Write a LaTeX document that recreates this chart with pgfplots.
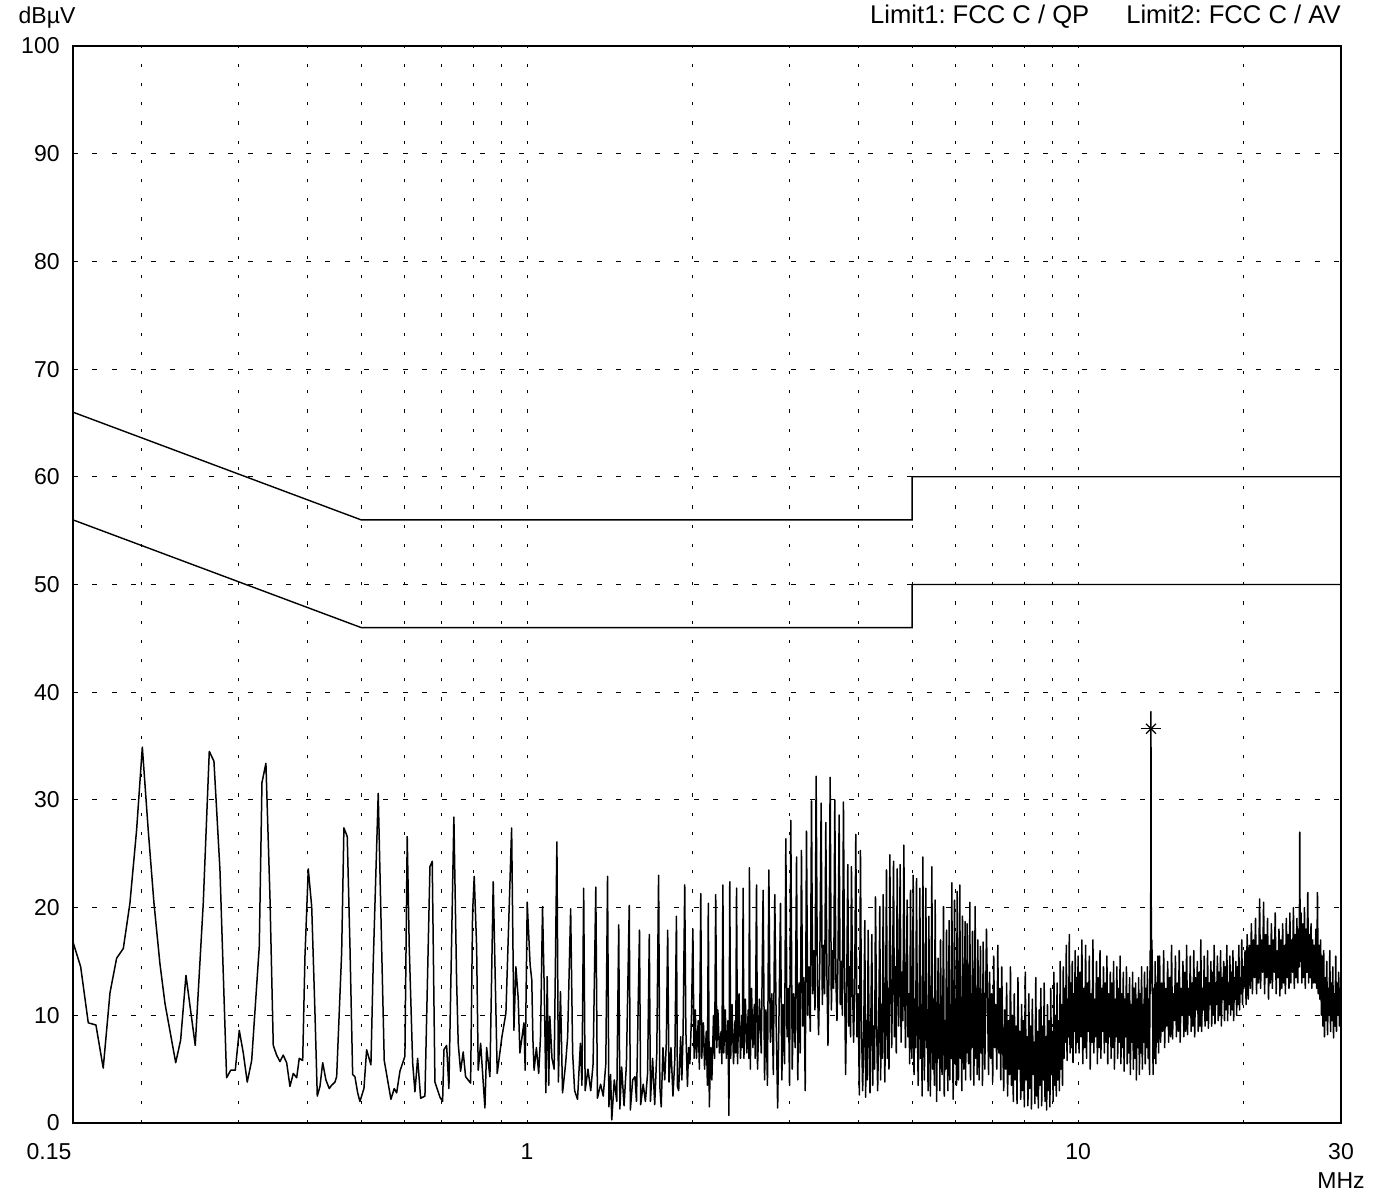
\documentclass[border=0pt]{standalone}
\usepackage{fontspec}
\setmainfont{Liberation Sans}
\usepackage{pgfplots}
\pgfplotsset{compat=1.18}
\begin{document}
\frenchspacing
\fontsize{11.5}{13.8}\selectfont
\begin{tikzpicture}
\begin{axis}[
  name=ax,
  at={(0,0)}, anchor=south west,
  scale only axis, width=634pt, height=538.5pt,
  xmode=log, xmin=0.15, xmax=30, ymin=0, ymax=100,
  axis line style={line width=0.7pt},
  major tick length=0pt, minor tick length=0pt,
  /pgf/number format/assume math mode=true,
  tick label style={font=\fontsize{11.5}{13.8}\selectfont},
  xtick={1,10,30}, xticklabels={1,10,30},
  xticklabel style={anchor=north, inner sep=0pt, yshift=-10pt},
  ytick={0,10,...,100},
  yticklabel style={anchor=east, inner sep=0pt, xshift=-6.5pt},
  ymajorgrids,
  major grid style={black, line width=0.5pt, dash pattern=on 2.5pt off 7.2pt},
  extra x ticks={0.2,0.3,0.4,0.5,0.6,0.7,0.8,0.9,1,2,3,4,5,6,7,8,9,10,20},
  extra x tick labels={},
  extra x tick style={grid=major, major grid style={black, line width=0.5pt, dash pattern=on 1.6pt off 8pt}},
  clip=true,
]
\addplot[black, line width=0.7pt] coordinates {(0.15,66)(0.5,56)(5,56)(5,60)(30,60)};
\addplot[black, line width=0.7pt] coordinates {(0.15,56)(0.5,46)(5,46)(5,50)(30,50)};
\addplot[black, line width=0.75pt, line join=round, mark=none] coordinates {
(0.15,16.8)(0.1549,14.5)(0.1599,9.3)(0.1651,9.1)(0.1702,5.1)(0.1751,12.1)(0.1800,15.3)(0.1851,16.2)(0.1903,20.4)(0.1957,27.2)(0.2004,34.9)(0.2054,27.2)(0.2104,20.4)(0.2157,14.8)(0.2203,11.1)(0.2304,5.6)(0.2352,7.7)(0.2405,13.7)(0.2500,7.2)(0.2585,20.4)(0.2651,34.5)(0.2703,33.6)(0.2772,23.5)(0.2850,4.2)(0.2899,4.9)(0.2955,4.9)(0.3005,8.6)(0.3056,6.5)(0.3107,3.8)(0.3165,5.8)(0.3267,16.4)(0.3304,31.6)(0.3359,33.4)(0.3416,21.0)(0.3464,7.2)(0.3513,6.3)(0.3562,5.7)(0.3611,6.3)(0.3663,5.6)(0.3714,3.4)(0.3766,4.6)(0.3820,4.2)(0.3861,6.0)(0.3917,5.8)(0.3954,15.4)(0.4009,23.6)(0.4067,20.1)(0.4123,10.2)(0.4163,2.5)(0.4210,3.4)(0.4258,5.6)(0.4316,4.0)(0.4376,3.2)(0.4420,3.5)(0.4482,3.8)(0.4514,4.3)(0.4609,15.8)(0.4653,27.4)(0.4718,26.6)(0.4772,16.4)(0.4826,4.5)(0.4872,4.3)(0.4928,2.8)(0.4975,2.0)(0.5059,3.2)(0.5116,6.8)(0.5209,5.4)(0.5259,14.8)(0.5370,30.6)(0.5447,16.4)(0.5507,5.8)(0.5576,4.2)(0.5663,2.2)(0.5742,3.2)(0.5800,2.8)(0.5880,4.8)(0.6004,6.2)(0.6062,26.6)(0.6113,16.4)(0.6201,5.6)(0.6261,2.9)(0.6332,6.0)(0.6412,2.3)(0.6528,2.5)(0.6666,23.8)(0.6730,24.3)(0.6806,3.8)(0.6950,2.4)(0.7029,2.0)(0.7067,6.8)(0.7147,7.2)(0.7216,3.2)(0.7368,28.4)(0.7452,13.3)(0.7502,7.4)(0.7577,4.8)(0.7660,6.6)(0.7737,4.3)(0.7901,3.7)(0.7967,19.5)(0.8020,22.9)(0.8101,16.4)(0.8156,4.9)(0.8238,7.4)(0.8387,1.4)(0.8447,7.0)(0.8564,4.3)(0.8683,22.4)(0.8829,4.6)(0.9004,8.0)(0.9156,10.2)(0.9377,27.4)(0.9467,8.6)(0.9546,14.5)(0.9638,11.6)(0.9707,6.5)(0.9871,9.3)(0.9924,4.9)(1.0008,20.5)
(1.013,14.7)(1.020,13.3)(1.025,7.7)(1.030,4.9)(1.040,7.0)(1.050,4.6)(1.058,8.0)(1.067,20.1)
(1.075,12.0)(1.082,2.8)(1.088,13.6)(1.095,3.5)(1.100,9.9)(1.110,6.0)(1.120,5.0)(1.133,26.1)
(1.140,3.8)(1.150,12.2)(1.160,2.8)(1.175,5.5)(1.185,8.0)(1.200,19.9)
(1.210,6.5)(1.220,3.0)(1.235,2.2)(1.250,7.4)(1.258,3.5)(1.267,21.8)
(1.275,3.0)(1.290,5.0)(1.305,3.0)(1.318,5.5)(1.333,21.9)
(1.342,2.3)(1.360,3.6)(1.375,2.5)(1.390,5.5)(1.400,22.9)
(1.408,1.5)(1.418,4.5)(1.425,0.3)(1.440,4.0)(1.455,2.0)(1.467,18.4)
(1.474,1.3)(1.485,5.2)(1.500,1.6)(1.515,5.5)(1.533,20.2)
(1.540,1.2)(1.555,4.0)(1.570,4.3)(1.580,2.0)(1.600,17.9)
(1.608,1.7)(1.625,3.6)(1.640,2.0)(1.655,4.6)(1.667,17.5)
(1.675,2.0)(1.690,6.0)(1.705,1.7)(1.720,6.5)(1.733,23.0)
(1.742,3.4)(1.752,1.5)(1.765,7.0)(1.778,4.0)(1.790,7.5)(1.800,17.9)
(1.810,3.8)(1.825,7.0)(1.840,2.5)(1.855,6.0)(1.867,19.2)
(1.875,3.4)(1.885,3.0)(1.900,8.0)(1.910,4.0)(1.920,8.5)(1.933,22.1)
(1.942,8.7)(1.955,3.4)(1.965,7.0)(1.975,5.5)(1.988,9.8)(2.000,18.0)
(2.010,6.0)(2.020,10.5)(2.030,6.0)(2.045,9.5)(2.055,5.0)(2.067,21.3)
(2.075,6.0)(2.090,9.3)(2.100,5.0)(2.115,8.5)(2.125,3.5)(2.133,20.4)
(2.142,1.5)(2.155,7.0)(2.165,4.0)(2.180,10.0)(2.190,6.0)(2.200,21.2)
(2.210,7.0)(2.220,10.5)(2.235,6.5)(2.250,8.5)(2.258,5.5)(2.267,22.1)
(2.275,6.5)(2.290,10.5)(2.300,6.0)(2.315,9.5)(2.325,0.7)(2.333,22.4)
(2.342,6.0)(2.355,11.0)(2.370,5.5)(2.385,9.5)(2.392,6.5)(2.400,21.8)
(2.410,5.5)(2.425,12.0)(2.440,6.0)(2.455,10.0)(2.460,7.0)(2.467,21.8)
(2.475,6.0)(2.490,11.5)(2.505,6.5)(2.520,10.5)(2.527,6.0)(2.533,23.7)
(2.542,5.0)(2.555,12.5)(2.570,7.0)(2.585,11.0)(2.595,6.0)(2.609,22.1)
(2.620,5.0)(2.641,11.5)(2.661,6.5)(2.682,21.6)
(2.698,4.0)(2.714,10.5)(2.731,3.5)(2.747,23.5)
(2.764,7.5)(2.782,12.0)(2.799,4.5)(2.816,21.2)
(2.833,9.0)(2.850,1.4)(2.867,10.5)(2.884,20.4)
(2.900,4.0)(2.916,11.0)(2.933,5.5)(2.949,26.4)
(2.964,8.0)(2.980,12.5)(2.995,3.5)(3.011,28.1)
(3.029,5.0)(3.047,12.0)(3.066,7.0)(3.084,24.7)
(3.100,4.0)(3.116,13.0)(3.132,6.5)(3.148,25.3)
(3.165,9.0)(3.181,13.5)(3.198,3.0)(3.215,27.1)
(3.232,10.0)(3.249,14.5)(3.266,8.5)(3.283,29.9)
(3.299,12.0)(3.315,16.0)(3.331,10.5)(3.347,32.2)
(3.365,13.0)(3.382,8.2)(3.400,15.5)(3.418,29.7)
(3.435,11.0)(3.451,16.5)(3.468,12.0)(3.485,27.9)
(3.501,14.0)(3.517,7.2)(3.533,15.0)(3.549,32.1)
(3.567,10.5)(3.584,16.0)(3.602,12.5)(3.619,30.0)
(3.635,13.5)(3.652,9.5)(3.668,15.5)(3.685,28.6)
(3.702,11.0)(3.718,15.0)(3.735,10.0)(3.752,29.8)
(3.769,14.0)(3.786,4.5)(3.804,13.0)(3.821,24.0)
(3.836,9.0)(3.850,14.5)(3.865,8.0)(3.880,23.8)
(3.898,12.5)(3.915,7.5)(3.933,13.0)(3.951,26.8)
(3.970,8.0)(3.990,12.0)(4.009,2.6)(4.028,25.3)
(4.046,9.0)(4.065,3.0)(4.083,8.0)(4.102,18.8)
(4.116,2.4)(4.131,9.5)(4.145,4.0)(4.160,17.9)
(4.176,8.5)(4.192,2.8)(4.208,10.0)(4.224,17.5)
(4.240,3.5)(4.256,9.0)(4.273,5.0)(4.289,21.0)
(4.308,10.0)(4.328,3.0)(4.347,8.5)(4.367,20.1)
(4.382,4.0)(4.398,11.0)(4.413,6.0)(4.429,21.2)
(4.444,10.5)(4.460,3.8)(4.475,11.5)(4.491,23.5)
(4.507,6.0)(4.522,12.5)(4.538,5.0)(4.554,24.9)
(4.572,13.0)(4.590,7.0)(4.607,14.0)(4.625,24.3)
(4.643,8.0)(4.660,14.5)(4.678,6.5)(4.696,23.6)
(4.711,13.5)(4.725,9.0)(4.740,15.0)(4.755,24.0)
(4.773,7.5)(4.792,14.0)(4.810,9.5)(4.829,25.8)
(4.846,12.5)(4.862,7.0)(4.879,13.5)(4.896,20.7)
(4.913,8.0)(4.930,12.0)(4.948,5.5)(4.965,21.6)
(4.979,11.0)(4.993,6.0)(5.007,10.5)(5.021,23.0)
(5.038,4.5)(5.056,11.5)(5.073,7.0)(5.091,22.7)
(5.109,9.0)(5.127,3.5)(5.145,10.0)(5.163,21.8)
(5.179,6.0)(5.195,11.0)(5.212,2.5)(5.228,24.7)
(5.244,9.5)(5.261,4.0)(5.277,11.0)(5.294,21.8)
(5.310,7.0)(5.327,10.5)(5.343,3.0)(5.360,19.2)
(5.377,9.0)(5.394,2.5)(5.411,10.0)(5.428,23.8)
(5.447,5.0)(5.466,11.5)(5.485,3.5)(5.504,20.7)
(5.521,8.5)(5.538,2.0)(5.556,10.0)(5.573,15.3)
(5.587,6.0)(5.601,11.0)(5.614,3.0)(5.628,17.0)
(5.646,9.0)(5.664,4.5)(5.681,10.5)(5.699,20.1)
(5.717,2.5)(5.735,9.5)(5.753,5.0)(5.771,17.9)
(5.787,10.0)(5.803,3.0)(5.819,8.5)(5.835,18.8)
(5.851,4.0)(5.868,11.0)(5.884,6.0)(5.901,22.3)
(5.917,8.0)(5.934,2.2)(5.950,10.0)(5.967,20.7)
(5.984,5.5)(6.000,11.5)(6.017,3.5)(6.033,21.5)
(6.050,9.5)(6.067,4.0)(6.084,12.0)(6.101,22.1)
(6.118,6.0)(6.135,11.0)(6.152,3.0)(6.169,19.2)
(6.186,10.0)(6.204,5.0)(6.221,12.0)(6.238,18.7)
(6.251,4.0)(6.264,10.5)(6.278,6.5)(6.291,18.5)
(6.309,11.5)(6.327,5.5)(6.344,9.0)(6.362,20.5)
(6.380,4.0)(6.398,12.0)(6.415,7.0)(6.433,17.8)
(6.451,10.5)(6.469,3.5)(6.487,11.0)(6.505,20.1)
(6.523,6.0)(6.541,12.5)(6.560,4.5)(6.578,17.0)
(6.596,9.5)(6.614,4.0)(6.633,11.0)(6.651,16.4)
(6.670,6.5)(6.688,12.0)(6.707,3.5)(6.726,16.8)
(6.750,10.0)(6.773,5.0)(6.797,11.5)(6.820,18.0)
(6.85,11.5)(6.88,4.5)(6.91,14.0)(6.94,6.0)(6.97,12.0)(7.00,3.8)(7.03,15.5)(7.06,7.0)(7.09,11.0)(7.12,5.0)(7.15,16.5)(7.18,6.5)(7.21,12.5)(7.24,4.0)(7.27,14.5)(7.30,7.5)
(7.33,3.0)(7.36,10.5)(7.39,5.0)(7.42,13.0)(7.45,2.5)(7.48,9.5)(7.51,4.5)(7.54,14.5)(7.57,3.5)(7.60,10.0)(7.63,2.0)(7.66,12.0)(7.69,4.0)(7.72,9.0)(7.75,1.8)(7.78,13.5)(7.81,5.0)(7.84,8.5)(7.87,2.2)(7.90,11.0)(7.93,3.0)(7.96,9.5)(7.99,1.5)(8.02,14.0)(8.05,4.0)(8.08,8.0)(8.11,1.6)(8.14,12.0)(8.17,3.2)(8.20,9.0)(8.23,1.3)(8.26,11.5)(8.29,4.5)(8.32,7.5)(8.35,1.8)(8.38,13.5)(8.41,2.5)(8.44,8.5)(8.47,1.4)(8.50,10.5)(8.53,3.5)(8.56,12.5)(8.59,1.6)(8.62,9.0)(8.65,4.0)(8.68,13.0)(8.71,2.0)(8.74,8.0)(8.77,1.2)(8.80,11.0)(8.83,3.0)(8.86,9.5)(8.89,1.5)(8.92,12.5)(8.95,4.5)(8.98,8.5)(9.01,2.0)(9.04,14.0)(9.07,3.5)(9.10,10.0)(9.13,2.5)(9.16,13.0)(9.19,4.0)(9.22,9.5)(9.25,3.0)(9.28,15.0)(9.31,5.0)(9.34,11.0)(9.37,3.5)(9.40,14.5)
(9.43,6.0)(9.46,12.5)(9.49,7.5)(9.52,16.5)(9.55,5.8)(9.58,11.5)(9.61,8.0)(9.64,17.5)(9.67,6.5)(9.70,13.0)(9.73,7.0)(9.76,15.0)(9.79,5.6)(9.82,12.0)(9.85,8.5)(9.88,16.0)(9.91,6.5)(9.94,13.5)(9.97,7.5)(10.00,15.5)
(10.04,6.5)(10.08,14.0)(10.12,8.0)(10.16,17.0)(10.20,5.5)(10.24,12.5)(10.28,7.0)(10.32,16.5)(10.36,6.0)(10.40,13.0)(10.44,8.5)(10.48,15.5)(10.52,5.0)(10.56,12.0)(10.60,7.5)(10.64,17.0)(10.68,6.5)(10.72,11.5)(10.76,8.0)(10.80,15.0)(10.84,5.5)(10.88,13.5)(10.92,7.0)(10.96,16.0)(11.00,6.0)(11.04,12.5)(11.08,8.5)(11.12,14.5)(11.16,6.5)(11.20,13.0)(11.24,7.5)(11.28,15.5)(11.32,5.5)(11.36,12.0)(11.40,8.0)(11.44,14.0)(11.48,6.0)(11.52,13.0)(11.56,7.0)(11.60,15.0)(11.64,5.0)(11.68,11.5)(11.72,8.0)(11.76,14.5)(11.80,6.0)(11.84,12.5)(11.88,7.5)(11.92,15.5)(11.96,5.5)(12.00,12.0)(12.04,7.0)(12.08,14.0)(12.12,4.8)(12.16,11.5)(12.20,8.0)(12.24,14.5)(12.28,5.5)(12.32,12.0)(12.36,6.5)(12.40,13.5)(12.44,4.5)(12.48,11.0)(12.52,7.5)(12.56,14.0)(12.60,5.0)(12.64,12.5)(12.68,6.0)(12.72,13.0)(12.76,4.0)(12.80,11.5)(12.84,7.0)(12.88,13.5)(12.92,4.5)(12.96,12.0)(13.00,6.5)(13.04,14.5)(13.08,5.0)(13.12,11.0)(13.16,7.5)(13.20,14.0)
(13.24,5.5)(13.28,12.5)(13.32,7.0)(13.36,14.5)(13.40,6.0)(13.44,11.5)(13.48,4.5)(13.51,16.0)(13.53,12.0)(13.54,20.5)(13.55,21.6)(13.56,38.2)(13.57,21.0)(13.58,19.5)(13.59,13.0)(13.61,17.0)(13.64,14.0)(13.68,4.5)(13.72,12.5)(13.76,6.0)(13.80,15.0)(13.84,5.5)(13.88,13.0)(13.92,7.5)(13.96,15.5)(14.00,6.5)
(14.06,15.5)(14.12,7.5)(14.18,13.0)(14.24,8.5)(14.30,16.0)(14.36,7.0)(14.42,12.5)(14.48,9.0)(14.54,15.0)(14.60,7.5)(14.66,13.5)(14.72,8.0)(14.78,16.5)(14.84,7.8)(14.90,12.0)(14.96,9.5)(15.02,15.5)(15.08,8.0)(15.14,13.0)(15.20,8.5)(15.26,16.0)(15.32,7.5)(15.38,12.5)(15.44,10.0)(15.50,15.0)(15.56,8.0)(15.62,14.0)(15.68,8.5)(15.74,16.5)(15.80,8.2)(15.86,12.5)(15.92,10.0)(15.98,15.5)(16.04,8.5)(16.10,13.0)(16.16,9.0)(16.22,16.0)(16.28,8.0)(16.34,13.5)(16.40,10.5)(16.46,15.0)(16.52,8.5)(16.58,14.0)(16.64,9.0)(16.70,17.0)(16.76,8.5)(16.82,12.5)(16.88,10.5)(16.94,15.5)(17.00,9.0)(17.06,13.5)(17.12,9.5)(17.18,16.0)(17.24,8.8)(17.30,13.0)(17.36,11.0)(17.42,15.0)(17.48,9.0)(17.54,14.0)(17.60,10.0)(17.66,16.5)(17.72,9.2)(17.78,13.0)(17.84,11.0)(17.90,15.5)(17.96,9.5)(18.02,14.0)(18.08,10.0)(18.14,16.0)(18.20,9.0)(18.26,13.5)(18.32,11.5)(18.38,15.0)(18.44,9.5)(18.50,14.5)(18.56,10.5)(18.62,16.5)(18.68,9.5)(18.74,13.0)(18.80,11.0)(18.86,15.5)(18.92,10.0)(18.98,14.0)(19.04,10.5)(19.10,16.0)(19.16,9.5)(19.22,13.5)(19.28,11.5)(19.34,15.0)(19.40,10.0)(19.46,14.5)(19.52,11.0)(19.58,16.5)(19.64,10.5)(19.70,13.5)(19.76,12.0)(19.82,17.0)(19.88,11.0)(19.94,14.5)(20.00,12.5)
(20.09,16.0)(20.18,11.0)(20.27,17.5)(20.36,11.5)(20.45,16.5)(20.54,12.5)(20.63,18.5)(20.72,12.0)(20.81,17.0)(20.90,13.5)(20.99,19.0)(21.08,12.0)(21.17,16.5)(21.26,13.0)(21.35,20.8)(21.44,12.5)(21.53,17.0)(21.62,14.0)(21.71,20.5)(21.80,12.0)(21.89,17.5)(21.98,13.5)(22.07,19.0)(22.16,11.5)(22.25,16.5)(22.34,13.0)(22.43,18.5)(22.52,12.5)(22.61,17.0)(22.70,14.0)(22.79,19.5)(22.88,12.0)(22.97,16.0)(23.06,13.5)(23.15,18.0)(23.24,11.8)(23.33,17.0)(23.42,12.5)(23.51,18.5)(23.60,13.0)(23.69,16.5)(23.78,12.0)(23.87,19.0)(23.96,13.5)(24.05,17.5)(24.14,12.5)(24.23,19.5)(24.32,13.0)(24.41,17.0)(24.50,14.0)(24.59,20.0)(24.68,12.5)(24.77,17.5)
(24.86,13.5)(24.95,19.0)(25.04,13.0)(25.13,18.0)(25.20,14.5)(25.25,27.0)(25.30,15.0)(25.39,19.5)(25.48,13.0)(25.57,18.5)(25.66,13.5)(25.75,20.0)(25.84,12.5)(25.93,18.0)(26.02,14.0)(26.11,21.4)(26.20,13.0)(26.29,17.5)(26.38,13.5)(26.47,18.5)(26.56,12.5)(26.65,17.0)(26.74,13.0)(26.83,16.5)(26.92,13.0)
(27.01,18.0)(27.10,12.5)(27.19,21.4)(27.28,12.0)(27.37,16.5)(27.46,11.5)(27.55,17.0)(27.64,10.0)(27.73,15.5)(27.82,9.0)(27.91,16.0)(28.00,8.0)(28.09,13.5)(28.18,9.5)(28.27,15.0)(28.36,8.2)(28.45,12.5)(28.54,10.0)(28.63,16.0)(28.72,8.5)(28.81,13.0)(28.90,9.5)(28.99,14.5)(29.08,7.9)(29.17,12.0)(29.26,9.0)(29.35,15.5)(29.44,8.5)(29.53,13.0)(29.62,10.0)(29.71,14.0)(29.80,9.0)(29.89,12.5)(29.98,11.0)(30.00,13.0)
};
\addplot[black, only marks, mark=x, mark size=3.5pt, mark options={line width=0.6pt}] coordinates {(13.56,36.6)};
\addplot[black, only marks, mark=-, mark size=5pt, mark options={line width=0.6pt}] coordinates {(13.56,36.6)};
\end{axis}
\node[anchor=north, inner sep=0pt, xshift=-12pt, yshift=-10pt] at (ax.south west) {0.15};
\node[anchor=north, inner sep=0pt, yshift=-24.5pt] at (ax.south east) {MHz};
\node[anchor=base, inner sep=0pt, xshift=-13pt, yshift=11pt] at (ax.north west) {dBµV};
\node[anchor=base east, inner sep=0pt, yshift=11pt, font=\fontsize{12.8}{15}\selectfont] at (ax.north east) {Limit1: FCC C / QP\hspace{18.5pt}Limit2: FCC C / AV};
\pgfresetboundingbox
\useasboundingbox (-36.5pt,-35.5pt) rectangle (657.5pt,561.5pt);
\end{tikzpicture}
\end{document}
